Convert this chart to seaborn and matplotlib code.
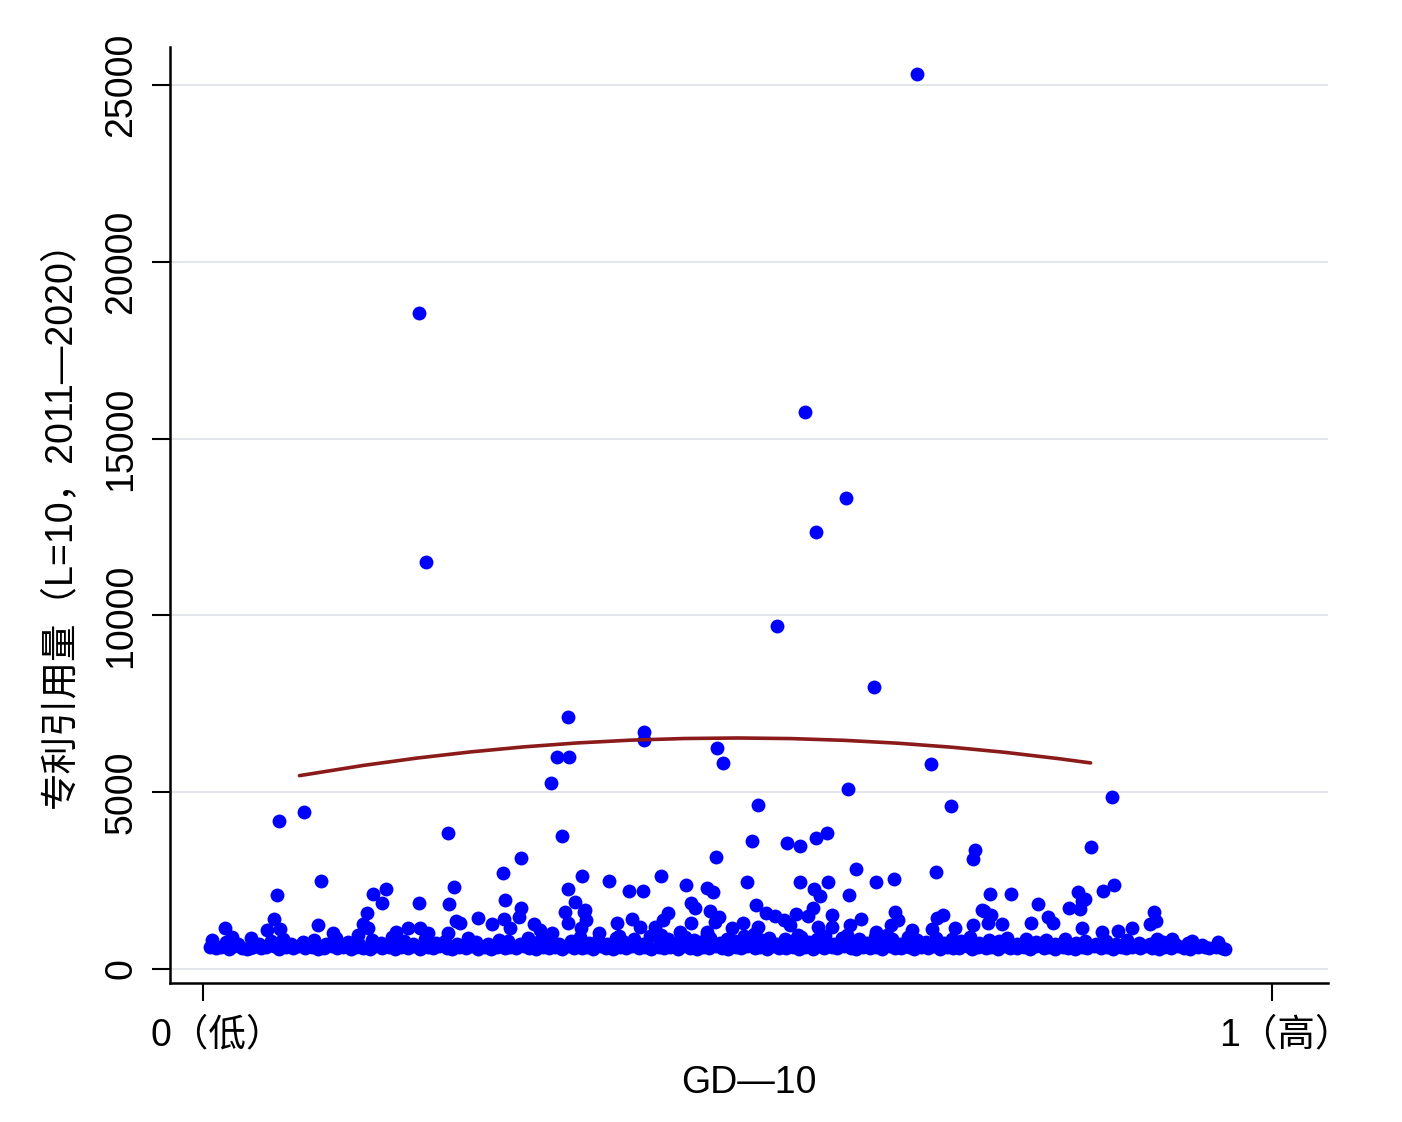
import matplotlib
matplotlib.use("Agg")
import matplotlib.pyplot as plt
import matplotlib.transforms as mtransforms
import seaborn as sns
import pandas as pd
import numpy as np

# dense bottom band
low_x = [
    0.012, 0.017, 0.024, 0.029, 0.036, 0.041, 0.047, 0.054, 0.059, 0.066,
    0.071, 0.077, 0.084, 0.089, 0.095, 0.102, 0.107, 0.113, 0.120, 0.125,
    0.131, 0.138, 0.143, 0.149, 0.156, 0.161, 0.167, 0.174, 0.179, 0.185,
    0.192, 0.197, 0.203, 0.210, 0.215, 0.221, 0.228, 0.233, 0.239, 0.246,
    0.251, 0.257, 0.264, 0.269, 0.275, 0.282, 0.287, 0.293, 0.300, 0.305,
    0.311, 0.318, 0.323, 0.329, 0.336, 0.341, 0.347, 0.354, 0.359, 0.365,
    0.372, 0.377, 0.383, 0.390, 0.395, 0.401, 0.408, 0.413, 0.419, 0.426,
    0.431, 0.437, 0.444, 0.449, 0.455, 0.462, 0.467, 0.473, 0.480, 0.485,
    0.491, 0.498, 0.503, 0.509, 0.516, 0.521, 0.527, 0.534, 0.539, 0.545,
    0.552, 0.557, 0.563, 0.570, 0.575, 0.581, 0.588, 0.593, 0.599, 0.606,
    0.611, 0.617, 0.624, 0.629, 0.635, 0.642, 0.647, 0.653, 0.660, 0.665,
    0.671, 0.678, 0.683, 0.689, 0.696, 0.701, 0.707, 0.714, 0.719, 0.725,
    0.732, 0.737, 0.743, 0.750, 0.755, 0.761, 0.768, 0.773, 0.779, 0.786,
    0.791, 0.797, 0.804, 0.809, 0.815, 0.822, 0.827, 0.833, 0.840, 0.845,
    0.851, 0.858, 0.863, 0.869, 0.876, 0.881, 0.887, 0.894, 0.899, 0.905,
    0.912, 0.917, 0.923, 0.930, 0.941, 0.947, 0.953, 0.006, 0.019, 0.044,
]
low_y = [
    590, 620, 575, 640, 600, 565, 630, 585, 610, 650,
    570, 615, 595, 640, 580, 625, 560, 605, 645, 590,
    620, 575, 635, 600, 565, 650, 585, 610, 570, 630,
    595, 640, 560, 615, 585, 650, 600, 570, 625, 590,
    645, 575, 610, 565, 635, 595, 620, 580, 655, 600,
    570, 630, 590, 615, 560, 645, 605, 585, 625, 575,
    640, 595, 565, 620, 600, 650, 580, 610, 570, 635,
    590, 615, 560, 645, 600, 575, 630, 585, 655, 605,
    570, 625, 595, 640, 580, 610, 565, 650, 600, 585,
    630, 575, 615, 560, 645, 595, 620, 580, 640, 600,
    565, 635, 590, 610, 575, 650, 600, 585, 625, 570,
    615, 595, 640, 560, 620, 585, 605, 645, 575, 630,
    590, 610, 570, 650, 600, 580, 625, 565, 640, 595,
    615, 575, 635, 590, 560, 620, 600, 645, 580, 610,
    570, 630, 595, 615, 585, 650, 605, 575, 625, 590,
    640, 600, 570, 615, 585, 620, 595, 610, 640, 580,
]

mid_x = [
    0.008, 0.021, 0.033, 0.045, 0.052, 0.063, 0.075, 0.082, 0.093, 0.104,
    0.115, 0.124, 0.135, 0.146, 0.158, 0.166, 0.177, 0.188, 0.196, 0.207,
    0.218, 0.226, 0.237, 0.248, 0.255, 0.266, 0.277, 0.285, 0.296, 0.304,
    0.313, 0.322, 0.333, 0.344, 0.352, 0.361, 0.369, 0.378, 0.386, 0.394,
    0.403, 0.411, 0.418, 0.427, 0.435, 0.442, 0.451, 0.459, 0.466, 0.474,
    0.483, 0.490, 0.497, 0.506, 0.513, 0.520, 0.529, 0.537, 0.544, 0.551,
    0.559, 0.567, 0.574, 0.582, 0.590, 0.597, 0.604, 0.613, 0.620, 0.628,
    0.636, 0.644, 0.652, 0.659, 0.668, 0.676, 0.685, 0.693, 0.700, 0.709,
    0.717, 0.726, 0.735, 0.744, 0.752, 0.761, 0.770, 0.779, 0.788, 0.797,
    0.806, 0.816, 0.825, 0.835, 0.844, 0.854, 0.864, 0.875, 0.886, 0.898,
    0.909, 0.921, 0.934, 0.428, 0.515, 0.602, 0.389, 0.471, 0.556, 0.640,
]
mid_y = [
    820, 760, 700, 880, 720, 790, 850, 700, 760, 830,
    720, 880, 760, 700, 820, 740, 900, 780, 710, 860,
    740, 800, 700, 870, 760, 720, 830, 790, 700, 880,
    760, 850, 720, 800, 900, 740, 830, 710, 880, 770,
    850, 720, 920, 790, 860, 740, 900, 810, 760, 880,
    730, 860, 800, 920, 750, 840, 890, 720, 860, 800,
    910, 760, 850, 940, 720, 880, 800, 860, 740, 900,
    790, 850, 720, 900, 820, 760, 880, 730, 850, 790,
    900, 740, 830, 780, 880, 720, 850, 760, 820, 700,
    860, 740, 800, 720, 780, 700, 830, 740, 710, 760,
    700, 730, 690, 960, 980, 950, 940, 970, 960, 950,
]

upper_x = [
    0.020, 0.027, 0.060, 0.072, 0.121, 0.145, 0.149, 0.154, 0.180, 0.192,
    0.203, 0.210, 0.229, 0.240, 0.257, 0.270, 0.281, 0.287, 0.295, 0.309,
    0.315, 0.326, 0.341, 0.357, 0.358, 0.353, 0.370, 0.387, 0.401, 0.409,
    0.423, 0.430, 0.446, 0.456, 0.479, 0.471, 0.495, 0.505, 0.519, 0.535,
    0.543, 0.554, 0.549, 0.570, 0.575, 0.588, 0.588, 0.605, 0.615, 0.629,
    0.643, 0.650, 0.663, 0.682, 0.703, 0.720, 0.728, 0.734, 0.747, 0.774,
    0.795, 0.825, 0.822, 0.841, 0.856, 0.869, 0.886, 0.892, 0.906, 0.925,
    0.937, 0.949, 0.956,
]
upper_y = [
    1160, 905, 1100, 1130, 1020, 960, 1270, 1160, 1045, 1160,
    1160, 1020, 1020, 1300, 1440, 1270, 1410, 1160, 1470, 1270,
    1100, 1020, 1300, 1670, 1385, 1160, 1020, 1300, 1410, 1190,
    1190, 1385, 1045, 1300, 1330, 1045, 1160, 1300, 1190, 1500,
    1385, 1555, 1245, 1725, 1190, 1530, 1190, 1245, 1410, 1045,
    1245, 1385, 1100, 1130, 1160, 1245, 1670, 1300, 1270, 1300,
    1300, 1980, 1160, 1045, 1075, 1160, 1270, 850, 850, 790,
    620, 760, 565,
]

out_x = [
    0.668, 0.202, 0.208, 0.563, 0.601, 0.573, 0.537, 0.627, 0.341, 0.412,
    0.412, 0.331, 0.342, 0.481, 0.486, 0.681, 0.325, 0.603, 0.850, 0.699,
    0.519, 0.094, 0.071, 0.229, 0.336, 0.513, 0.546, 0.558, 0.583, 0.573,
    0.830, 0.722, 0.720, 0.480, 0.297, 0.611, 0.685, 0.646, 0.629, 0.280,
    0.354, 0.428, 0.380, 0.110, 0.452, 0.509, 0.558, 0.584, 0.235, 0.171,
    0.159, 0.341, 0.398, 0.411, 0.471, 0.477, 0.571, 0.577, 0.604, 0.842,
    0.852, 0.818, 0.756, 0.736, 0.069, 0.822, 0.781, 0.810, 0.889, 0.891,
    0.167, 0.202, 0.230, 0.282, 0.297, 0.338, 0.348, 0.356, 0.456, 0.460,
    0.474, 0.482, 0.517, 0.526, 0.647, 0.153, 0.435, 0.566, 0.686, 0.692,
    0.730, 0.737, 0.790, 0.820, 0.066, 0.107, 0.236,
]
out_y = [
    25310, 18550, 11510, 15750, 13320, 12360, 9700, 7975, 7130, 6700,
    6480, 6000, 6000, 6250, 5830, 5800, 5260, 5090, 4860, 4610,
    4640, 4440, 4190, 3850, 3760, 3620, 3560, 3480, 3850, 3700,
    3450, 3370, 3110, 3170, 3140, 2830, 2740, 2550, 2460, 2720,
    2630, 2630, 2490, 2490, 2380, 2460, 2460, 2460, 2320, 2260,
    2120, 2260, 2210, 2210, 2290, 2180, 2260, 2060, 2090, 2210,
    2380, 2180, 2120, 2120, 2090, 1920, 1840, 1730, 1610, 1360,
    1870, 1870, 1840, 1950, 1730, 1610, 1900, 1610, 1870, 1730,
    1640, 1470, 1810, 1580, 1610, 1580, 1580, 1500, 1440, 1530,
    1640, 1530, 1470, 1700, 1410, 1240, 1360,
]

# fitted curve
fit_x = [0.09, 0.15, 0.20, 0.25, 0.30, 0.35, 0.40, 0.45, 0.50,
         0.55, 0.60, 0.65, 0.70, 0.75, 0.80, 0.83]
fit_y = [5468, 5758, 5965, 6139, 6282, 6393, 6472, 6518, 6533,
         6516, 6466, 6385, 6272, 6127, 5949, 5828]

y_ticks = [0, 5000, 10000, 15000, 20000, 25000]
x_ticks = [0, 1]
x_tick_labels = ["0（低）", "1（高）"]

sns.set_theme(style="white")
plt.rcParams["font.family"] = ["Liberation Sans", "Noto Sans CJK SC", "DejaVu Sans"]

df = pd.DataFrame({
    "gd": low_x + mid_x + upper_x + out_x,
    "cites": low_y + mid_y + upper_y + out_y,
})
fit = pd.DataFrame({"gd": fit_x, "cites": fit_y})

fig = plt.figure(figsize=(14.02, 11.22), dpi=100)
ax = fig.add_axes([0.1213, 0.1239, 0.8259, 0.8342])

ax.yaxis.grid(True, color="#dfe4ea", linewidth=1.3)
ax.set_axisbelow(True)

sns.scatterplot(data=df, x="gd", y="cites", ax=ax, color="#0000ff",
                s=100, linewidth=0, zorder=3)
sns.lineplot(data=fit, x="gd", y="cites", ax=ax, color="#8b1a1a",
             linewidth=2.6, zorder=4)

ax.set_xlim(-0.031, 1.052)
ax.set_ylim(-396, 26075)
ax.set_yticks(y_ticks)
ax.set_yticklabels([str(v) for v in y_ticks])
ax.set_xticks(x_ticks)
ax.set_xticklabels(x_tick_labels)

ax.tick_params(axis="both", which="both", direction="out", length=13,
               width=1.5, colors="black", labelsize=27, bottom=True, left=True)
ax.tick_params(axis="y", pad=9)
ax.tick_params(axis="x", pad=12)
for lab in ax.get_yticklabels():
    lab.set_rotation(90)
    lab.set_va("center")

# nudge x tick labels slightly right, as in the original
shift = mtransforms.ScaledTranslation(10 / 72, 0, fig.dpi_scale_trans)
for lab in ax.get_xticklabels():
    lab.set_transform(lab.get_transform() + shift)

sns.despine(ax=ax)
for side in ["left", "bottom"]:
    ax.spines[side].set_color("black")
    ax.spines[side].set_linewidth(1.8)

ax.set_xlabel("GD—10", fontsize=27, labelpad=8, color="black")
ax.set_ylabel("专利引用量（L=10，2011—2020）", fontsize=27, labelpad=18,
              color="black")

fig.savefig("out.png", dpi=100, facecolor="white")
